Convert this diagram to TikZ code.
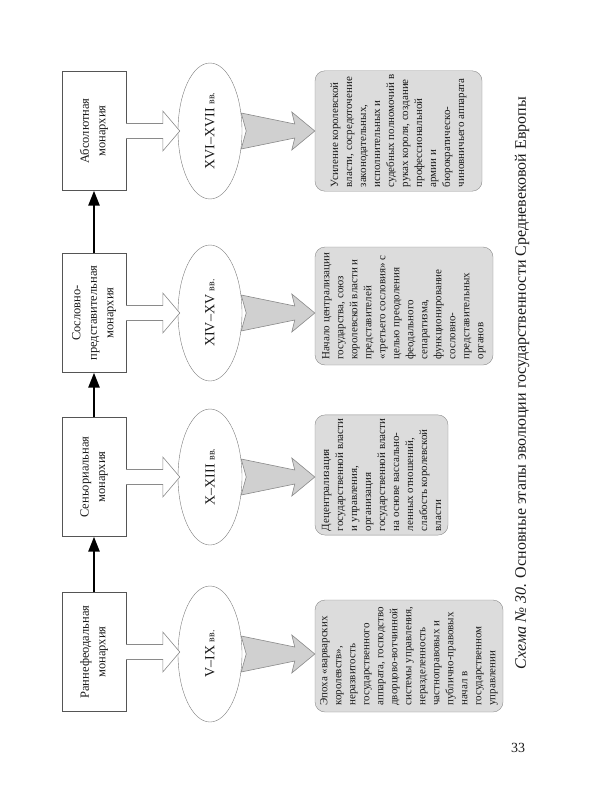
\documentclass[tikz,border=0pt]{standalone}
\usepackage{fontspec}
\setmainfont{Liberation Serif}
\usepackage{xcolor}
\usepackage{tikz}
\usetikzlibrary{shapes.geometric,arrows.meta,calc}
\definecolor{boxline}{HTML}{555555}
\definecolor{ovalline}{HTML}{7A7A7A}
\definecolor{notefill}{HTML}{DCDCDC}
\definecolor{noteline}{HTML}{8A8A8A}
\definecolor{shadefill}{HTML}{D0D0D0}
\definecolor{inktext}{HTML}{1A1A1A}

\tikzset{
  stage/.style={rectangle, draw=boxline, fill=white, rotate=90, minimum width=119pt, minimum height=64pt, align=center, text=inktext, font=\fontsize{12.5}{16.5}\selectfont},
  period/.style={ellipse, draw=ovalline, fill=white, rotate=90, minimum width=136pt, minimum height=64pt, inner sep=0pt, text=inktext, font=\fontsize{14}{16}\selectfont},
  note/.style={rectangle, rounded corners=10pt, draw=noteline, fill=notefill, rotate=90, align=left, inner sep=4pt, text=inktext, font=\fontsize{11}{14}\selectfont},
  stagearrow/.style={line width=2.6pt, -{Triangle[length=15pt,width=11pt]}},
  hollowarr/.style={draw=noteline, fill=white, line width=0.6pt},
  shadearr/.style={draw=noteline, fill=shadefill, line width=0.6pt}
}

% wide outlined arrow: box -> oval
\newcommand{\hollowarrow}[2]{%
  \path[hollowarr] let \p1=(#1), \p2=(#2) in
    (\x1,\y1+7.5pt) -- (\x2-15pt,\y1+7.5pt) -- (\x2-15pt,\y1+20pt) -- (\x2+2pt,\y1)
    -- (\x2-15pt,\y1-20pt) -- (\x2-15pt,\y1-7.5pt) -- (\x1,\y1-7.5pt);}
% tapered grey arrow: oval -> note
\newcommand{\shadearrow}[2]{%
  \path[shadearr] let \p1=(#1), \p2=(#2) in
    (\x1-1pt,\y1+18pt) -- (\x2-20pt,\y1+7pt) -- (\x2-23pt,\y1+19pt) -- (\x2,\y1)
    -- (\x2-23pt,\y1-19pt) -- (\x2-20pt,\y1-7pt) -- (\x1-1pt,\y1-18pt) -- (\x1+4pt,\y1) -- cycle;}

\begin{document}
\begin{tikzpicture}[x=1pt, y=-1pt]
    \useasboundingbox (0,0) rectangle (600,800);

    % Stages
    \node[stage] (absol) at (94,131) {Абсолютная\\монархия};
    \node[stage] (soslov) at (94,313) {Сословно-\\представительная\\монархия};
    \node[stage] (senior) at (94,477) {Сеньориальная\\монархия};
    \node[stage] (rannef) at (94,652) {Раннефеодальная\\монархия};

    % Periods
    \node[period] (pabsol) at (210,131) {XVI–XVII {\fontsize{10}{12}\selectfont вв.}};
    \node[period] (psoslov) at (210,313) {XIV–XV {\fontsize{10}{12}\selectfont вв.}};
    \node[period] (psenior) at (210,477) {X–XIII {\fontsize{10}{12}\selectfont вв.}};
    \node[period] (prannef) at (210,654) {V–IX {\fontsize{10}{12}\selectfont вв.}};

    % Notes
    \node[note, minimum width=118pt, minimum height=167pt] (nabsol) at (398.5,131) {Усиление королевской\\власти, сосредоточение\\законодательных,\\исполнительных и\\судебных полномочий в\\руках короля, создание\\профессиональной\\армии и\\бюрократическо-\\чиновничьего аппарата};
    \node[note, minimum width=118pt, minimum height=178pt] (nsoslov) at (404,306) {Начало централизации\\государства, союз\\королевской власти и\\представителей\\«третьего сословия» с\\целью преодоления\\феодального\\сепаратизма,\\функционирование\\сословно-\\представительных\\органов};
    \node[note, minimum width=116pt, minimum height=133pt] (nsenior) at (381.5,475) {Децентрализация\\государственной власти\\и управления,\\организация\\государственной власти\\на основе вассально-\\ленных отношений,\\слабость королевской\\власти};
    \node[note, minimum width=112pt, minimum height=188pt] (nrannef) at (409,656) {Эпоха «варварских\\королевств»,\\неразвитость\\государственного\\аппарата, господство\\дворцово-вотчинной\\системы управления,\\неразделенность\\частноправовых и\\публично-правовых\\начал в\\государственном\\управлении};

    % Evolution
    \draw[stagearrow] (rannef.east) -- (senior.west);
    \draw[stagearrow] (senior.east) -- (soslov.west);
    \draw[stagearrow] (soslov.east) -- (absol.west);

    % Stage -> period
    \hollowarrow{absol.south}{pabsol.north}
    \hollowarrow{soslov.south}{psoslov.north}
    \hollowarrow{senior.south}{psenior.north}
    \hollowarrow{rannef.south}{prannef.north}

    % Period -> note
    \shadearrow{pabsol.south}{nabsol.north}
    \shadearrow{psoslov.south}{nsoslov.north}
    \shadearrow{psenior.south}{nsenior.north}
    \shadearrow{prannef.south}{nrannef.north}

    % Caption
    \node[rotate=90, text=inktext, font=\fontsize{16}{18}\selectfont] (caption) at (522,383) {{\itshape Схема № 30.} Основные этапы эволюции государственности Средневековой Европы};
    \node[text=inktext, font=\fontsize{14}{16}\selectfont] (pageno) at (518,748) {33};
\end{tikzpicture}
\end{document}
